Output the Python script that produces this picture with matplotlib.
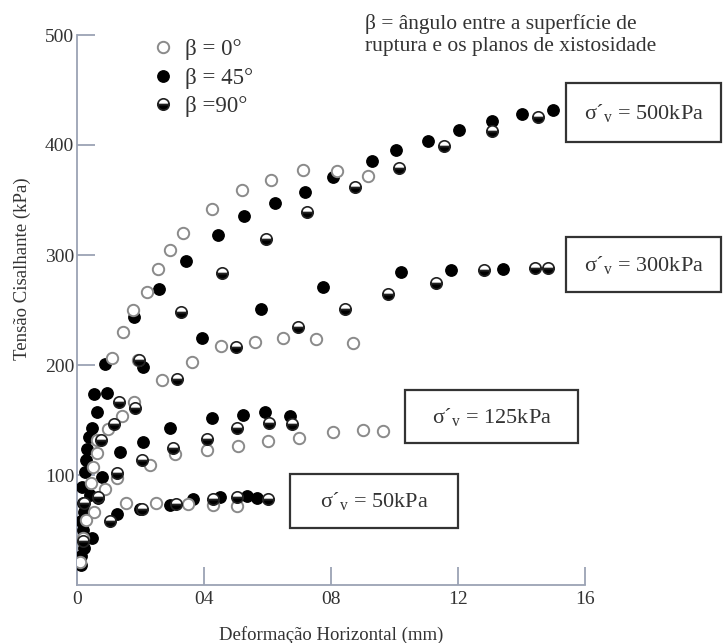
import matplotlib
matplotlib.use("Agg")
import matplotlib.pyplot as plt
from matplotlib.patches import Rectangle

plt.rcParams['font.family'] = ['Liberation Serif', 'DejaVu Serif']
plt.rcParams['mathtext.fontset'] = 'custom'
plt.rcParams['mathtext.rm'] = 'Liberation Serif'
plt.rcParams['mathtext.it'] = 'Liberation Serif:italic'

# ---------------- data (x: mm, y: kPa) ----------------
# beta = 0 deg (open circles)
b0_50_x = [0.09, 0.54, 1.54, 2.49, 3.50, 4.28, 5.04]
b0_50_y = [21, 66, 75, 75, 74, 73, 72]
b0_125_x = [0.19, 0.44, 0.88, 1.26, 2.30, 3.09, 4.09, 5.07, 6.02, 6.99, 8.06, 9.01, 9.64]
b0_125_y = [43, 93, 87, 97, 109, 119, 123, 126, 131, 134, 139, 141, 140]
b0_300_x = [0.28, 0.50, 0.63, 0.98, 1.42, 1.80, 1.92, 2.68, 3.62, 4.54, 5.61, 6.49, 7.53, 8.69]
b0_300_y = [59, 107, 120, 142, 154, 166, 205, 186, 203, 217, 221, 225, 224, 220]
b0_500_x = [0.63, 1.10, 1.45, 1.76, 2.20, 2.55, 2.93, 3.34, 4.25, 5.20, 6.11, 7.12, 8.19, 9.17]
b0_500_y = [132, 206, 230, 250, 266, 287, 305, 320, 342, 359, 368, 377, 376, 372]

# beta = 45 deg (filled circles)
b45_50_x = [0.13, 0.22, 0.47, 1.26, 1.98, 2.93, 3.65, 4.50, 5.35, 5.67]
b45_50_y = [18, 34, 43, 65, 69, 73, 78, 80, 81, 79]
b45_125_x = [0.13, 0.19, 0.22, 0.41, 0.66, 0.79, 1.35, 2.08, 2.93, 4.25, 5.23, 5.92, 6.71]
b45_125_y = [26, 50, 66, 82, 79, 98, 121, 130, 143, 152, 155, 157, 154]
b45_300_x = [0.13, 0.19, 0.16, 0.25, 0.28, 0.31, 0.38, 0.47, 0.63, 0.94, 2.08, 3.94, 5.80,
             7.75, 10.20, 11.78, 13.42]
b45_300_y = [58, 75, 89, 103, 114, 124, 135, 143, 157, 175, 198, 225, 251,
             271, 285, 286, 287]
b45_500_x = [0.54, 0.88, 1.80, 2.58, 3.43, 4.44, 5.26, 6.24, 7.18, 8.06, 9.29, 10.05,
             11.06, 12.03, 13.07, 14.02, 14.99]
b45_500_y = [174, 201, 244, 269, 295, 318, 335, 347, 357, 371, 385, 395,
             404, 414, 422, 428, 432]

# beta = 90 deg (half-filled circles)
b90_50_x = [0.20, 1.04, 2.05, 3.12, 4.28, 5.04, 6.02]
b90_50_y = [40, 58, 69, 74, 78, 80, 78]
b90_125_x = [0.22, 0.66, 1.26, 2.05, 3.02, 4.09, 5.04, 6.05, 6.77]
b90_125_y = [75, 80, 102, 114, 125, 133, 143, 147, 146]
b90_300_x = [0.76, 1.17, 1.32, 1.83, 1.95, 3.15, 5.01, 6.96, 8.44, 9.80, 11.31, 12.82,
             14.43, 14.83]
b90_300_y = [132, 146, 166, 161, 205, 187, 216, 235, 251, 265, 275, 286, 288, 288]
b90_500_x = [3.28, 4.57, 5.95, 7.24, 8.76, 10.14, 11.56, 13.07, 14.52]
b90_500_y = [248, 284, 315, 339, 362, 379, 399, 413, 425]

x_ticks = [0, 4, 8, 12, 16]
x_tick_labels = ["0", "04", "08", "12", "16"]
y_ticks = [100, 200, 300, 400, 500]
legend_labels = ["β = 0°", "β = 45°", "β =90°"]
stress_labels = ["500kPa", "300kPa", "125kPa", "50kPa"]

# ---------------- figure ----------------
fig = plt.figure(figsize=(7.23, 6.43), dpi=100)
ax = fig.add_axes([77 / 723, 1 - 585 / 643, (585 - 77) / 723, (585 - 35) / 643])

ms = 8.2
open_kw = dict(linestyle='none', marker='o', ms=ms, mfc='white', mec='#8a8a8a', mew=1.4)
full_kw = dict(linestyle='none', marker='o', ms=ms, mfc='black', mec='black', mew=1.0)
half_kw = dict(linestyle='none', marker='o', ms=ms, fillstyle='bottom', mfc='black',
               markerfacecoloralt='white', mec='#222222', mew=1.2)

for xs, ys in [(b45_50_x, b45_50_y), (b45_125_x, b45_125_y), (b45_300_x, b45_300_y),
               (b45_500_x, b45_500_y)]:
    h45, = ax.plot(xs, ys, **full_kw, zorder=3)
for xs, ys in [(b0_50_x, b0_50_y), (b0_125_x, b0_125_y), (b0_300_x, b0_300_y),
               (b0_500_x, b0_500_y)]:
    h0, = ax.plot(xs, ys, **open_kw, zorder=4)
for xs, ys in [(b90_50_x, b90_50_y), (b90_125_x, b90_125_y), (b90_300_x, b90_300_y),
               (b90_500_x, b90_500_y)]:
    h90, = ax.plot(xs, ys, **half_kw, zorder=5)

ax.set_xlim(0, 16)
ax.set_ylim(0, 500)
ax.set_xticks(x_ticks)
ax.set_xticklabels(x_tick_labels)
ax.set_yticks(y_ticks)
for s in ['top', 'right']:
    ax.spines[s].set_visible(False)
axis_col = '#9ba3b4'
for s in ['left', 'bottom']:
    ax.spines[s].set_color(axis_col)
    ax.spines[s].set_linewidth(1.3)
ax.tick_params(axis='both', direction='in', color=axis_col, width=1.3, length=13,
               labelsize=14, labelcolor='#333333')
ax.tick_params(axis='y', pad=2)
ax.tick_params(axis='x', pad=4)

ax.set_xlabel("Deformação Horizontal (mm)", fontsize=13.5, color='#333333', labelpad=13)
ax.set_ylabel("Tensão Cisalhante (kPa)", fontsize=13.5, color='#333333')
ax.yaxis.set_label_coords(-0.09, 0.575)

leg = ax.legend([h0, h45, h90], legend_labels, loc='upper left',
                bbox_to_anchor=(152 / 723, 1 - 39 / 643), bbox_transform=fig.transFigure,
                frameon=False, fontsize=16.5, handlelength=1.0, handletextpad=0.45,
                labelspacing=0.33, borderpad=0, borderaxespad=0, labelcolor='#333333')

fig.text(365 / 723, 1 - 35 / 643, "β = ângulo entre a superfície de\nruptura e os planos de xistosidade",
         fontsize=15.5, color='#333333', va='center', ha='left', linespacing=1.25)

boxes = [  # (x0, x1, ytop, ybottom) in pixels
    (566, 721, 83, 142),
    (566, 721, 237, 292),
    (405, 578, 390, 443),
    (290, 458, 474, 528),
]
for (x0, x1, yt, yb), lab in zip(boxes, stress_labels):
    fig.patches.append(Rectangle((x0 / 723, 1 - yb / 643), (x1 - x0) / 723, (yb - yt) / 643,
                                 transform=fig.transFigure, fill=False, ec='#333333', lw=1.6))
    fig.text((x0 + x1) / 2 / 723, 1 - (yt + yb) / 2 / 643, "σ´$_\\mathrm{v}$ = " + lab,
             ha='center', va='center', fontsize=16, color='#333333')

fig.savefig("out.png", dpi=100)
